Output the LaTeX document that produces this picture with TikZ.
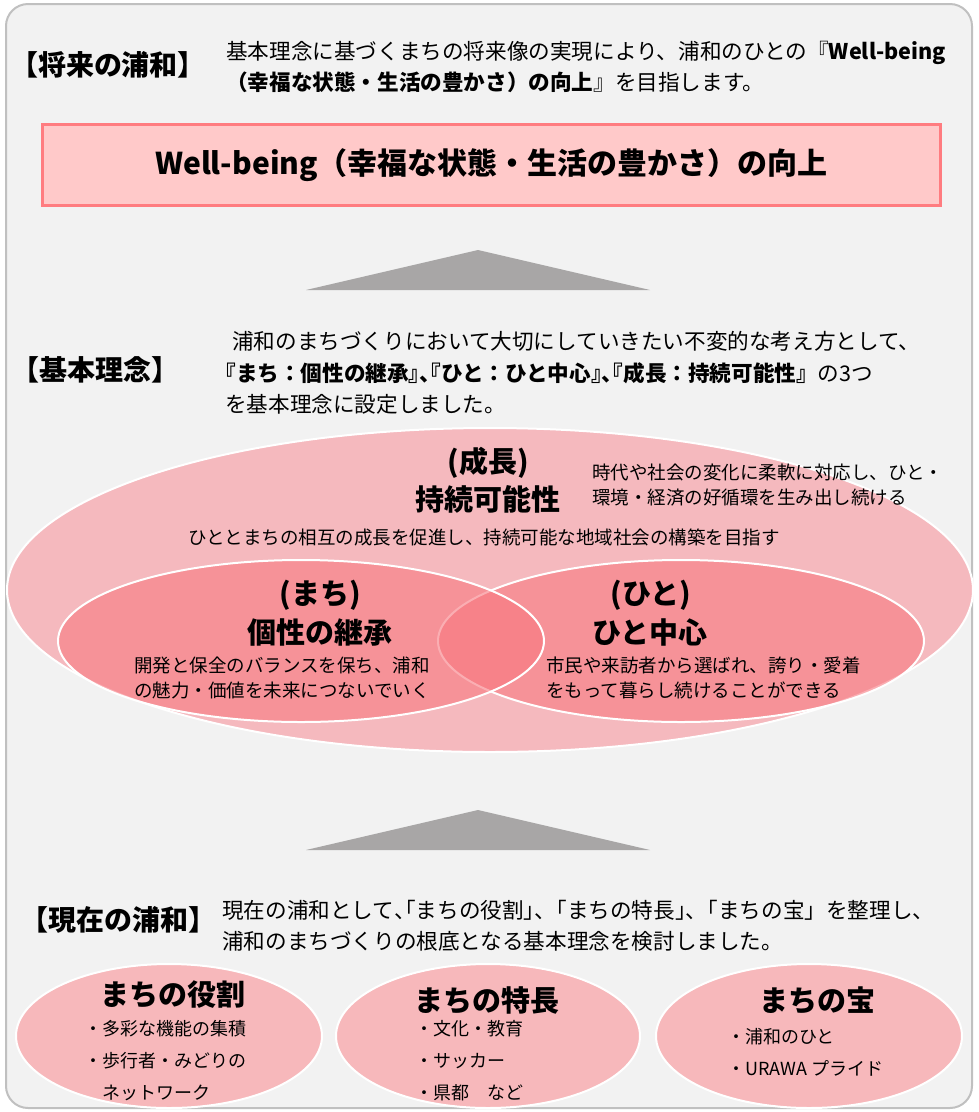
\documentclass[tikz,border=0pt]{standalone}
\usepackage{fontspec}
\setmainfont{Noto Sans CJK JP}
\usetikzlibrary{shapes.geometric}
\definecolor{framegray}{RGB}{192,192,192}
\definecolor{bggray}{RGB}{242,242,242}
\definecolor{wbfill}{RGB}{255,201,201}
\definecolor{wbline}{RGB}{255,124,128}
\definecolor{arrowgray}{RGB}{168,166,166}
\definecolor{outerpink}{RGB}{245,185,190}
\definecolor{innerpink}{RGB}{248,120,128}
\definecolor{basepink}{RGB}{247,184,187}
\newcommand{\hw}[1]{{\addfontfeature{RawFeature=+halt}#1}}

\begin{document}
\begin{tikzpicture}[x=1pt, y=-1pt,
	every node/.style={inner sep=0pt},
	heading/.style={font=\fontsize{28}{32}\selectfont\bfseries},
	body/.style={anchor=west, align=left, font=\fontsize{21.6}{31.5}\selectfont},
	note/.style={anchor=west, align=left, font=\fontsize{18.5}{24.5}\selectfont},
	item/.style={anchor=west, align=left, font=\fontsize{18}{32}\selectfont},
	title/.style={font=\fontsize{29}{36}\selectfont\bfseries},
	oval/.style={ellipse, draw=white, line width=2pt}]
	\useasboundingbox (0,0) rectangle (979,1112);
	\draw[framegray, line width=2pt, fill=bggray, rounded corners=22pt] (6,4) rectangle (972,1108);
	
	% future
	\node[heading] (future) at (108,65) {【将来の浦和】};
	\node[body] (futuretext) at (226,67) {基本理念に基づくまちの将来像の実現により、浦和のひとの『\textbf{Well-being}\\\textbf{（幸福な状態・生活の豊かさ）の向上}』を目指します。};
	\node[draw=wbline, line width=3.3pt, fill=wbfill, minimum width=898pt, minimum height=81pt, font=\fontsize{30}{36}\selectfont\bfseries] (wellbeing) at (491.5,165) {Well-being（幸福な状態・生活の豊かさ）の向上};
	\fill[arrowgray] (478,250) -- (650,290) -- (306,290) -- cycle;
	
	% principle
	\node[heading] (principle) at (96,370) {【基本理念】};
	\node[body] (principletext) at (225,373) {\hspace{7pt}浦和のまちづくりにおいて大切にしていきたい不変的な考え方として、\\\textbf{\hw{『}まち：個性の継承\hw{』、『}ひと：ひと中心\hw{』、『}成長：持続可能性』}の3つ\\を基本理念に設定しました。};
	
	\node[oval, fill=outerpink, minimum width=966pt, minimum height=324pt] (growth) at (490,590) {};
	\node[oval, fill=innerpink, fill opacity=0.6, minimum width=486pt, minimum height=162pt] (hito) at (681,641) {};
	\node[oval, fill=innerpink, fill opacity=0.6, minimum width=486pt, minimum height=162pt] (machi) at (301,641) {};
	
	\node[title] (growthlabel) at (488,463) {(成長)};
	\node[title] (growthname) at (488,499) {持続可能性};
	\node[note] (growthnote) at (592,485) {時代や社会の変化に柔軟に対応し、ひと・\\環境・経済の好循環を生み出し続ける};
	\node[note, anchor=center] (growthgoal) at (484,537) {ひととまちの相互の成長を促進し、持続可能な地域社会の構築を目指す};
	\node[title] (machilabel) at (320,595) {(まち)};
	\node[title] (machiname) at (320,632) {個性の継承};
	\node[note] (machinote) at (134,678) {開発と保全のバランスを保ち、浦和\\の魅力・価値を未来につないでいく};
	\node[title] (hitolabel) at (651,595) {(ひと)};
	\node[title] (hitoname) at (650,632) {ひと中心};
	\node[note] (hitonote) at (546,678) {市民や来訪者から選ばれ、誇り・愛着\\をもって暮らし続けることができる};
	\fill[arrowgray] (478,810) -- (650,850) -- (306,850) -- cycle;
	
	% present
	\node[heading] (present) at (118,920) {【現在の浦和】};
	\node[body] (presenttext) at (222,926) {現在の浦和として\hw{、「}まちの役割\hw{」、}「まちの特長\hw{」、}「まちの宝」を整理し、\\浦和のまちづくりの根底となる基本理念を検討しました。};
	
	\node[oval, fill=basepink, minimum width=306pt, minimum height=144pt] (role) at (169,1036) {};
	\node[oval, fill=basepink, minimum width=304pt, minimum height=144pt] (feature) at (488,1036) {};
	\node[oval, fill=basepink, minimum width=306pt, minimum height=144pt] (treasure) at (809,1036) {};
	\node[title] (roletitle) at (173,995) {まちの役割};
	\node[item] (roleitems) at (84,1061) {・多彩な機能の集積\\・歩行者・みどりの\\\hspace{1em}ネットワーク};
	\node[title] (featuretitle) at (487,1000) {まちの特長};
	\node[item] (featureitems) at (415,1061) {・文化・教育\\・サッカー\\・県都　など};
	\node[title] (treasuretitle) at (817,1000) {まちの宝};
	\node[item] (treasureitems) at (727,1052) {・浦和のひと\\・URAWA プライド};
\end{tikzpicture}
\end{document}
